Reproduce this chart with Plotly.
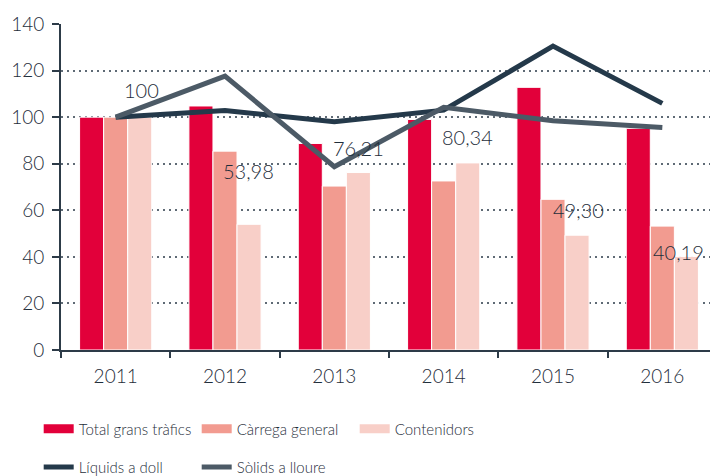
import plotly.graph_objects as go

# Data
years = ["2011", "2012", "2013", "2014", "2015", "2016"]
total_grans = [100, 104.8, 88.7, 99.0, 112.8, 95.2]
carrega_general = [100, 85.4, 70.4, 72.6, 64.7, 53.2]
contenidors = [100, 53.98, 76.21, 80.34, 49.30, 40.19]
liquids_doll = [100, 102.8, 98.0, 103.0, 130.5, 105.9]
solids_lloure = [100, 117.6, 78.7, 104.2, 98.5, 95.6]
label_text = ["100", "53,98", "76,21", "80,34", "49,30", "40,19"]

FONT = "Lato, 'Open Sans', sans-serif"
TEXT = "#1f2e3b"
AXIS = "#2d3b48"
COLORS = {
    "total": "#e2003a",
    "carrega": "#f29b90",
    "cont": "#f8cfc8",
    "liq": "#24394a",
    "sol": "#4c5a66",
}

fig = go.Figure()

bar_series = [
    ("Total grans tràfics", total_grans, COLORS["total"]),
    ("Càrrega general", carrega_general, COLORS["carrega"]),
    ("Contenidors", contenidors, COLORS["cont"]),
]
for name, vals, col in bar_series:
    fig.add_trace(go.Bar(
        x=years, y=vals, name=name,
        marker=dict(color=col, line=dict(color="white", width=1)),
        showlegend=False,
    ))
    # wide legend swatch like the original
    fig.add_trace(go.Scatter(
        x=[None], y=[None], mode="lines", name=name,
        line=dict(color=col, width=9), legend="legend",
    ))

for name, vals, col in [("Líquids a doll", liquids_doll, COLORS["liq"]),
                        ("Sòlids a lloure", solids_lloure, COLORS["sol"])]:
    fig.add_trace(go.Scatter(
        x=years, y=vals, name=name, mode="lines",
        line=dict(color=col, width=5), legend="legend2",
    ))

# data labels for Contenidors (nudged like the source)
yshifts = [27, 53, 25, 26, 25, 4]
xshifts = [26, 23, 24, 24, 25, 16]
for i, (v, t) in enumerate(zip(contenidors, label_text)):
    fig.add_annotation(x=i, y=v, xref="x", yref="y", text=t, showarrow=False,
                       xshift=xshifts[i], yshift=yshifts[i],
                       font=dict(family=FONT, size=20, color=TEXT, weight=300))

legend_common = dict(
    orientation="h", x=-0.034, xanchor="left", yanchor="middle",
    entrywidth=113, entrywidthmode="pixels",
    font=dict(size=15, color=TEXT, weight=300),
    bgcolor="rgba(0,0,0,0)", itemwidth=30,
)

# page body has an 8px margin, so the figure is sized to fit the window
fig.update_layout(
    width=710, height=468,
    paper_bgcolor="white", plot_bgcolor="white",
    font=dict(family=FONT, size=19, color=TEXT, weight=300),
    margin=dict(l=53, r=1, t=16, b=126, autoexpand=False),
    barmode="group", bargap=0.34, bargroupgap=0,
    xaxis=dict(
        type="category",
        showline=True, linecolor=AXIS, linewidth=2,
        ticks="outside", tickson="boundaries", ticklen=6, tickcolor=AXIS, tickwidth=2,
        range=[-0.5, 5.5], tickfont=dict(size=19, color=TEXT, weight=300),
        ticklabelstandoff=8,
    ),
    yaxis=dict(
        range=[0, 140], dtick=20, showline=True, linecolor=AXIS, linewidth=2,
        ticks="outside", ticklen=7, tickcolor=AXIS, tickwidth=2,
        showgrid=True, gridcolor="#5f6a75", griddash="2px,4px", gridwidth=1.5,
        zeroline=False, tickfont=dict(size=19, color=TEXT, weight=300),
        ticklabelstandoff=4,
    ),
    legend=dict(y=-0.242, **legend_common),
    legend2=dict(y=-0.36, **legend_common),
)

fig.write_html("out.html")
